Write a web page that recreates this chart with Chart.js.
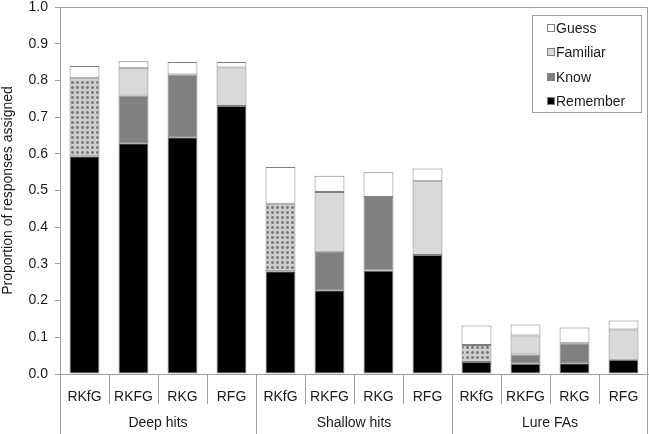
<!DOCTYPE html>
<html>
<head>
<meta charset="utf-8">
<script src="https://cdn.jsdelivr.net/npm/chart.js@4.4.1/dist/chart.umd.min.js"></script>
<style>
  html, body { margin: 0; padding: 0; background: #fff; }
  canvas { display: block; }
</style>
</head>
<body>
<canvas id="chart" width="649" height="434"></canvas>
<script>
// --- data ---
const categories = ['RKfG', 'RKFG', 'RKG', 'RFG', 'RKfG', 'RKFG', 'RKG', 'RFG', 'RKfG', 'RKFG', 'RKG', 'RFG'];
const groups = ['Deep hits', 'Shallow hits', 'Lure FAs'];
const yTicks = [0, 0.1, 0.2, 0.3, 0.4, 0.5, 0.6, 0.7, 0.8, 0.9, 1.0];

const remember = [0.593, 0.629, 0.645, 0.730, 0.280, 0.228, 0.282, 0.324, 0.033, 0.028, 0.029, 0.039];
const know = [null, 0.130, 0.171, null, null, 0.105, 0.200, null, null, 0.025, 0.055, null];
const knowFamiliar = [0.213, null, null, null, 0.184, null, null, null, 0.046, null, null, null];
const familiar = [null, 0.074, null, 0.105, null, 0.163, null, 0.201, null, 0.052, null, 0.082];
const guess = [0.033, 0.019, 0.034, 0.015, 0.100, 0.044, 0.068, 0.035, 0.053, 0.030, 0.043, 0.025];

const FONT = "'Liberation Sans', Arial, sans-serif";
const EDGE = '#a0a0a0';
const TEXT = '#1a1a1a';

// dotted fill used for the RKfG middle segment
function makePattern() {
    const c = document.createElement('canvas');
    c.width = 5; c.height = 5;
    const g = c.getContext('2d');
    g.fillStyle = '#cfcfcf';
    g.fillRect(0, 0, 5, 5);
    g.fillStyle = '#7e7e7e';
    g.fillRect(1, 1, 3, 3);
    g.fillStyle = '#a2a2a2';
    [[1, 1], [3, 1], [1, 3], [3, 3]].forEach(([x, y]) => g.fillRect(x, y, 1, 1));
    return g.createPattern(c, 'repeat');
}

// legend box in the top right corner of the plot
const boxLegend = {
    id: 'boxLegend',
    afterDraw(chart) {
        const { ctx, chartArea } = chart;
        const items = chart.data.datasets.filter(d => d.inLegend).reverse();
        const w = 109, h = 97;
        const x0 = chartArea.right - w - 7, y0 = chartArea.top + 8;
        ctx.save();
        ctx.strokeStyle = EDGE;
        ctx.lineWidth = 1;
        ctx.strokeRect(Math.round(x0) + 0.5, Math.round(y0) + 0.5, w, h);
        ctx.font = '14px ' + FONT;
        ctx.textBaseline = 'middle';
        items.forEach((d, i) => {
            const cy = Math.round(y0 + 13 + i * 24.3);
            const sx = Math.round(x0 + 15);
            ctx.fillStyle = d.backgroundColor;
            ctx.fillRect(sx, cy - 4, 8, 8);
            ctx.strokeStyle = '#808080';
            ctx.strokeRect(sx + 0.5, cy - 3.5, 7, 7);
            ctx.fillStyle = TEXT;
            ctx.fillText(d.label, sx + 9, cy + 1);
        });
        ctx.restore();
    }
};

// frame, category dividers and group labels under the axis
const frameAndGroups = {
    id: 'frameAndGroups',
    afterDraw(chart) {
        const { ctx, chartArea } = chart;
        const xs = chart.scales.x;
        const n = categories.length;
        const step = (xs.right - xs.left) / n;
        ctx.save();
        ctx.strokeStyle = EDGE;
        ctx.lineWidth = 1;
        ctx.beginPath();
        ctx.moveTo(Math.round(chartArea.left) + 0.5, Math.round(chartArea.top) + 0.5);
        ctx.lineTo(Math.round(chartArea.right) - 0.5, Math.round(chartArea.top) + 0.5);
        ctx.lineTo(Math.round(chartArea.right) - 0.5, Math.round(chartArea.bottom) + 0.5);
        ctx.stroke();

        for (let i = 0; i <= n; i++) {
            const x = Math.round(xs.left + i * step) + (i === n ? -0.5 : 0.5);
            const yEnd = i % 4 === 0 ? chart.height : chartArea.bottom + 30;
            ctx.beginPath();
            ctx.moveTo(x, chartArea.bottom);
            ctx.lineTo(x, yEnd);
            ctx.stroke();
        }

        ctx.fillStyle = TEXT;
        ctx.font = '14px ' + FONT;
        ctx.textAlign = 'center';
        ctx.textBaseline = 'middle';
        groups.forEach((g, i) => {
            const cx = xs.left + (i * 4 + 2) * step;
            ctx.fillText(g, cx, chartArea.bottom + 49);
        });
        ctx.restore();
    }
};

const seg = (label, data, color, inLegend) => ({
    label, data, inLegend,
    backgroundColor: color,
    borderColor: '#7f7f7f',
    borderWidth: 1,
    borderSkipped: false,
    categoryPercentage: 1,
    barPercentage: 0.61
});

new Chart(document.getElementById('chart'), {
    type: 'bar',
    data: {
        labels: categories,
        datasets: [
            seg('Remember', remember, '#000000', true),
            seg('Know', know, '#808080', true),
            seg('Know/familiar', knowFamiliar, makePattern(), false),
            seg('Familiar', familiar, '#d9d9d9', true),
            seg('Guess', guess, '#ffffff', true)
        ]
    },
    options: {
        responsive: false,
        devicePixelRatio: 1,
        animation: false,
        layout: { padding: { top: 0, right: 1, left: 0, bottom: 26 } },
        plugins: {
            legend: { display: false },
            tooltip: { enabled: false }
        },
        scales: {
            x: {
                stacked: true,
                grid: { display: false },
                border: { color: EDGE },
                ticks: { color: TEXT, font: { family: FONT, size: 14 }, padding: 7, maxRotation: 0, autoSkip: false },
                afterFit: s => { s.height = 34; }
            },
            y: {
                stacked: true,
                min: 0,
                max: 1,
                afterBuildTicks: s => { s.ticks = yTicks.map(v => ({ value: v })); },
                grid: { drawOnChartArea: false, tickLength: 5, color: EDGE },
                border: { color: EDGE },
                ticks: {
                    color: TEXT,
                    font: { family: FONT, size: 14 },
                    padding: 7,
                    callback: v => Number(v).toFixed(1)
                },
                title: {
                    display: true,
                    text: 'Proportion of responses assigned',
                    color: TEXT,
                    font: { family: FONT, size: 14 },
                    padding: { top: 0, bottom: 2 }
                },
                afterFit: s => {
                    s.width = 60;
                    s.paddingTop = 7;
                    s.paddingBottom = 0;
                }
            }
        }
    },
    plugins: [boxLegend, frameAndGroups]
});
</script>
</body>
</html>
